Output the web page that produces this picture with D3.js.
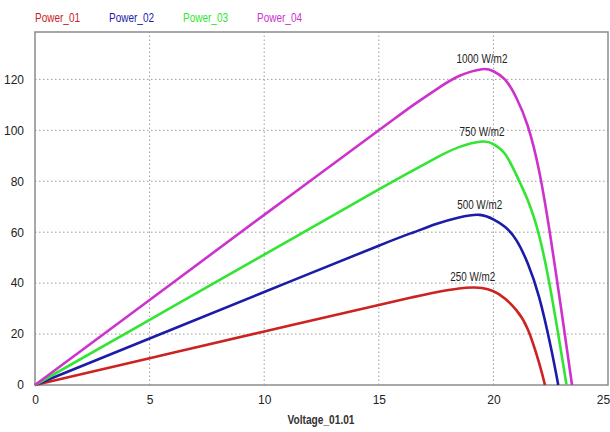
<!DOCTYPE html>
<html>
<head>
<meta charset="utf-8">
<script src="https://cdn.jsdelivr.net/npm/d3@7"></script>
<style>
  body { margin: 0; background: #fff; }
  text { font-family: "Liberation Sans", Arial, sans-serif; }
</style>
</head>
<body>
<div id="chart"></div>
<script>
// values: [voltage, power]
const power01 = [[0,0],[5,10.5],[10,21],[15,31.4],[16.5,34.5],[17.5,36.4],[18.5,37.9],[19.1,38.3],[19.5,38.1],[20,36.8],[20.5,34],[21,29.4],[21.5,21.9],[22,8.5],[22.25,0]];
const power02 = [[0,0],[5,18.25],[10,36.5],[15,54.7],[16.5,59.9],[17.5,63.2],[18.5,65.8],[19.4,66.8],[20,65],[20.5,62.1],[21,56.9],[21.5,47.7],[22,34.3],[22.5,15.1],[22.83,0]];
const power03 = [[0,0],[5,25.6],[10,51.2],[15,76.8],[16.5,84.3],[17.5,89.2],[18.5,93.4],[19.5,95.6],[20,94.6],[20.5,90.8],[21,82.5],[21.5,72.5],[22,58.5],[22.5,37],[23,10.6],[23.19,0]];
const power04 = [[0,0],[5,33.4],[10,66.8],[15,100],[16.5,109.9],[17.5,116],[18.5,121.3],[19.5,124],[20,123.2],[20.5,120],[21,112.8],[21.5,101.7],[22,83.8],[22.5,57.6],[23,27.2],[23.43,0]];

const seriesNames = ["Power_01", "Power_02", "Power_03", "Power_04"];
const seriesColors = ["#cc2222", "#1c1ca8", "#33e533", "#cc33cc"];
const seriesData = [power01, power02, power03, power04];
const curveLabels = ["250 W/m2", "500 W/m2", "750 W/m2", "1000 W/m2"];
const xTicks = [0, 5, 10, 15, 20, 25];
const yTicks = [0, 20, 40, 60, 80, 100, 120];

const W = 610, H = 432;
const margin = {top: 32, right: 2, bottom: 47, left: 35};

const svg = d3.select("#chart").append("svg")
    .attr("width", W)
    .attr("height", H);

const x = d3.scaleLinear().domain([0, 25]).range([margin.left, W - margin.right]);
const y = d3.scaleLinear().domain([0, 138.6]).range([H - margin.bottom, margin.top]);

// dotted grid
svg.append("g")
    .selectAll("line")
    .data(xTicks.filter(d => d > 0 && d < 25))
    .join("line")
    .attr("x1", d => x(d)).attr("x2", d => x(d))
    .attr("y1", y(0)).attr("y2", margin.top)
    .attr("stroke", "#9a9a9a")
    .attr("stroke-dasharray", "1.5,2.5");

svg.append("g")
    .selectAll("line")
    .data(yTicks.filter(d => d > 0))
    .join("line")
    .attr("x1", x(0)).attr("x2", x(25))
    .attr("y1", d => y(d)).attr("y2", d => y(d))
    .attr("stroke", "#9a9a9a")
    .attr("stroke-dasharray", "1.5,2.5");

// frame
svg.append("rect")
    .attr("x", x(0)).attr("y", margin.top)
    .attr("width", x(25) - x(0))
    .attr("height", y(0) - margin.top)
    .attr("fill", "none")
    .attr("stroke", "#8c8c8c")
    .attr("stroke-width", 1.5);

// axes (labels only)
const xAxis = svg.append("g")
    .attr("transform", `translate(0, ${y(0)})`)
    .call(d3.axisBottom(x).tickValues(xTicks).tickSize(0).tickPadding(10).tickFormat(d3.format("d")));
xAxis.select(".domain").remove();
xAxis.selectAll("text")
    .style("font-size", "12px")
    .attr("fill", "#222")
    .attr("dx", d => d === 25 ? -5 : 0);

const yAxis = svg.append("g")
    .attr("transform", `translate(${x(0)}, 0)`)
    .call(d3.axisLeft(y).tickValues(yTicks).tickSize(0).tickPadding(11).tickFormat(d3.format("d")));
yAxis.select(".domain").remove();
yAxis.selectAll("text").style("font-size", "12px").attr("fill", "#222");

svg.append("text")
    .attr("x", 321)
    .attr("y", 424)
    .attr("text-anchor", "middle")
    .style("font-size", "12px")
    .style("font-weight", "bold")
    .attr("fill", "#333")
    .attr("textLength", 67)
    .attr("lengthAdjust", "spacingAndGlyphs")
    .text("Voltage_01.01");

// curves
const line = d3.line()
    .x(d => x(d[0]))
    .y(d => y(d[1]))
    .curve(d3.curveNatural);

svg.append("g")
    .selectAll("path")
    .data(seriesData)
    .join("path")
    .attr("d", line)
    .attr("fill", "none")
    .attr("stroke", (d, i) => seriesColors[i])
    .attr("stroke-width", 2.6);

// irradiance labels above each peak
svg.append("g")
    .selectAll("text")
    .data(seriesData)
    .join("text")
    .attr("x", d => x(d3.greatest(d, p => p[1])[0]))
    .attr("y", d => y(d3.max(d, p => p[1])) - 6)
    .attr("text-anchor", "middle")
    .style("font-size", "12px")
    .attr("fill", "#222")
    .attr("textLength", (d, i) => i === 3 ? 51 : 45)
    .attr("lengthAdjust", "spacingAndGlyphs")
    .text((d, i) => curveLabels[i]);

// legend
svg.append("g")
    .selectAll("text")
    .data(seriesNames)
    .join("text")
    .attr("x", (d, i) => 35 + i * 74)
    .attr("y", 22)
    .style("font-size", "12px")
    .attr("fill", (d, i) => seriesColors[i])
    .attr("textLength", 45)
    .attr("lengthAdjust", "spacingAndGlyphs")
    .text(d => d);
</script>
</body>
</html>
